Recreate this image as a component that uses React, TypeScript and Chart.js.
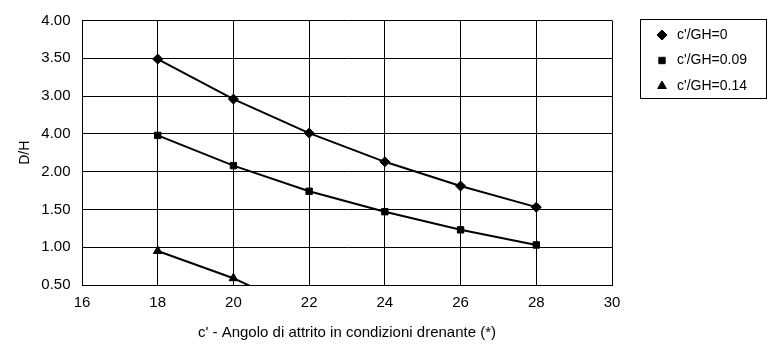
import React, { useEffect, useRef } from "react";
import { Chart, registerables } from "chart.js";
import { drawPoint } from "chart.js/helpers";

Chart.register(...registerables);

const xValues = [18, 20, 22, 24, 26, 28];
const seriesLabels = ["c'/GH=0", "c'/GH=0.09", "c'/GH=0.14"];
const seriesA = [3.49, 2.96, 2.51, 2.13, 1.81, 1.53];
const seriesB = [2.48, 2.08, 1.74, 1.47, 1.23, 1.03];
const seriesC = [0.95, 0.59, 0.12];
const yTickLabels = ["0.50", "1.00", "1.50", "2.00", "4.00", "3.00", "3.50", "4.00"];
const pointStyles = ["rectRot", "rect", "triangle"];
const pointRadii = [5, 4.5, 5];

const FONT = "'Liberation Sans', Arial, sans-serif";

const legendPlugin = {
  id: "boxLegend",
  afterDraw(chart: any) {
    const ctx = chart.ctx;
    ctx.save();
    const left = 640.5, top = 19.5, w = 126, h = 79;
    ctx.strokeStyle = "#000";
    ctx.lineWidth = 1;
    ctx.strokeRect(left, top, w, h);
    ctx.font = `14px ${FONT}`;
    ctx.fillStyle = "#000";
    ctx.textBaseline = "middle";
    chart.data.datasets.forEach((ds: any, i: number) => {
      const y = 35 + i * 25.5;
      ctx.fillStyle = "#000";
      ctx.strokeStyle = "#000";
      drawPoint(ctx, { pointStyle: ds.pointStyle, radius: ds.pointRadius, borderWidth: 1, rotation: 0 }, 662, y);
      ctx.fillText(ds.label, 677, y);
    });
    ctx.restore();
  },
};

const bgPlugin = {
  id: "bg",
  beforeDraw(chart: any) {
    const ctx = chart.ctx;
    ctx.save();
    ctx.fillStyle = "#fff";
    ctx.fillRect(0, 0, chart.width, chart.height);
    ctx.restore();
  },
};

export default function App() {
  const ref = useRef<HTMLCanvasElement>(null);
  useEffect(() => {
    if (!ref.current) return;
    const all = [seriesA, seriesB, seriesC];
    const chart = new Chart(ref.current, {
      type: "line",
      data: {
        datasets: all.map((vals, i) => ({
          label: seriesLabels[i],
          data: vals.map((v, j) => ({ x: xValues[j], y: v })),
          borderColor: "#000",
          backgroundColor: "#000",
          borderWidth: 2,
          pointStyle: pointStyles[i] as any,
          pointRadius: pointRadii[i],
          pointBorderWidth: 1,
          tension: 0,
        })),
      },
      options: {
        animation: false,
        responsive: true,
        maintainAspectRatio: false,
        layout: { padding: { left: 0, right: 157, top: 20, bottom: 0 } },
        plugins: { legend: { display: false }, tooltip: { enabled: false } },
        scales: {
          x: {
            type: "linear",
            min: 16,
            max: 30,
            border: { color: "#000", width: 1 },
            grid: { color: "#000", lineWidth: 1, drawTicks: false },
            ticks: { stepSize: 2, color: "#000", padding: 9, font: { family: FONT, size: 15 } },
            title: {
              display: true,
              text: "c' - Angolo di attrito in condizioni drenante (*)",
              color: "#000",
              font: { family: FONT, size: 15 },
              padding: { top: 0, bottom: 3 },
            },
            afterFit(scale: any) {
              scale.height = 60;
            },
          },
          y: {
            type: "linear",
            min: 0.5,
            max: 4,
            border: { color: "#000", width: 1 },
            grid: { color: "#000", lineWidth: 1, drawTicks: false },
            ticks: {
              stepSize: 0.5,
              color: "#000",
              padding: 11.5,
              font: { family: FONT, size: 15 },
              callback: (_v: any, i: number) => yTickLabels[i],
            },
            title: {
              display: true,
              text: "D/H",
              color: "#000",
              font: { family: FONT, size: 14 },
              padding: { top: 17, bottom: 0 },
            },
            afterFit(scale: any) {
              scale.width = 82;
            },
          },
        },
      },
      plugins: [bgPlugin, legendPlugin],
    });
    return () => chart.destroy();
  }, []);
  return (
    <div style={{ position: "absolute", left: 0, top: 0, width: 769, height: 345 }}>
      <canvas ref={ref} />
    </div>
  );
}
